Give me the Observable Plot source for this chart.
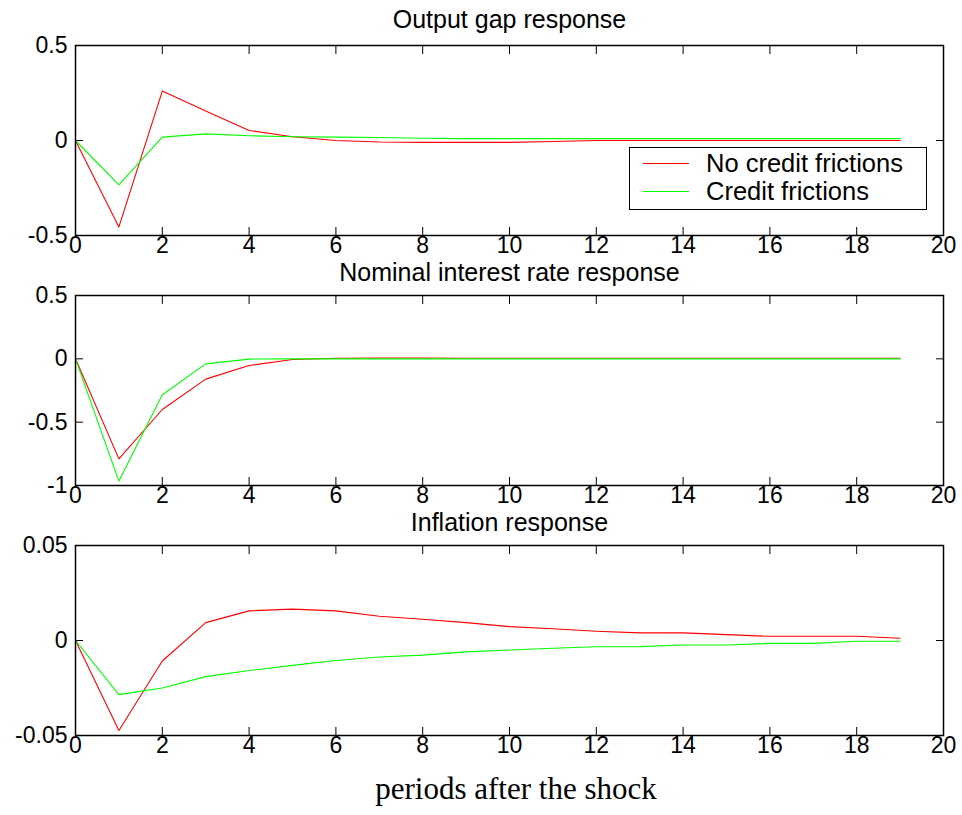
<!DOCTYPE html>
<html>
<head>
<meta charset="utf-8">
<script src="https://cdn.jsdelivr.net/npm/d3@7"></script>
<script src="https://cdn.jsdelivr.net/npm/@observablehq/plot@0.6"></script>
<style>
  html, body { margin: 0; padding: 0; background: #fff; }
  #wrap { position: relative; width: 962px; height: 815px; overflow: hidden; background: #fff; }
  .panel { position: absolute; left: 0; }
  #legend { position: absolute; left: 629px; top: 147px; width: 298px; height: 63px;
            border: 1.2px solid #000; background: #fff; box-sizing: border-box;
            font-family: "Liberation Sans", Arial, sans-serif; font-size: 25.5px; color: #000; }
  .row { position: absolute; left: 0; height: 28px; display: flex; align-items: center; }
  .swatch { width: 46px; height: 0; margin-left: 13px; margin-right: 17px; }
  #xlabel { position: absolute; left: 0; width: 1032px; text-align: center; top: 771px;
            font-family: "Liberation Serif", "Times New Roman", serif; font-size: 31px; color: #000; }
</style>
</head>
<body>
<div id="wrap"></div>
<script>
// ---------- data ----------
const periods = [0,1,2,3,4,5,6,7,8,9,10,11,12,13,14,15,16,17,18,19];
const xTicks = [0,2,4,6,8,10,12,14,16,18,20];
const seriesNames = ["No credit frictions", "Credit frictions"];
const seriesColors = ["#ff0000", "#00ff00"];
const xAxisLabel = "periods after the shock";

const titles = ["Output gap response", "Nominal interest rate response", "Inflation response"];

const outputNoCF = [0,-0.455,0.26,0.155,0.053,0.02,0.0,-0.008,-0.01,-0.01,-0.01,-0.005,0,0,0,0,0,0,0,0];
const outputCF   = [0,-0.233,0.018,0.035,0.025,0.02,0.018,0.016,0.012,0.01,0.01,0.01,0.01,0.01,0.01,0.01,0.01,0.01,0.01,0.01];
const outputTicks = [-0.5,0,0.5];
const outputDomain = [-0.5,0.5];

const rateNoCF = [0,-0.79,-0.40,-0.16,-0.053,-0.005,0.005,0.006,0.006,0.005,0.005,0.005,0.005,0.005,0.005,0.005,0.005,0.005,0.005,0.005];
const rateCF   = [0,-0.965,-0.283,-0.04,-0.002,0,0,0,0,0,0,0,0,0,0,0,0,0,0,0];
const rateTicks = [-1,-0.5,0,0.5];
const rateDomain = [-1,0.5];

const inflNoCF = [0,-0.0474,-0.0108,0.0094,0.0156,0.0165,0.0156,0.0128,0.0112,0.0094,0.0073,0.0062,0.0049,0.004,0.004,0.0031,0.0022,0.0022,0.0022,0.0012];
const inflCF   = [0,-0.0285,-0.025,-0.019,-0.0158,-0.0131,-0.0105,-0.0087,-0.0077,-0.006,-0.005,-0.0041,-0.0033,-0.0032,-0.0024,-0.0024,-0.0015,-0.0015,-0.0004,-0.0004];
const inflTicks = [-0.05,0,0.05];
const inflDomain = [-0.05,0.05];

// ---------- drawing ----------
const wrap = document.getElementById("wrap");
const font = "'Liberation Sans', Arial, Helvetica, sans-serif";

function panel(title, domain, yTicks, red, green, top, titleDy) {
  const rows = [];
  periods.forEach((p, i) => {
    rows.push({x: p, y: red[i], s: seriesNames[0]});
  });
  periods.forEach((p, i) => {
    rows.push({x: p, y: green[i], s: seriesNames[1]});
  });
  const fmt = d => String(d);
  const chart = Plot.plot({
    width: 962, height: 270,
    marginLeft: 75, marginRight: 19, marginTop: 45, marginBottom: 35,
    x: {domain: [0, 20]},
    y: {domain: domain},
    color: {domain: seriesNames, range: seriesColors},
    style: {background: "transparent", overflow: "visible", fontFamily: font, fontSize: "23px", color: "#000"},
    marks: [
      Plot.axisX({ticks: xTicks, anchor: "bottom", tickSize: -8, tickPadding: 9, tickFormat: fmt, label: null, strokeWidth: 1}),
      Plot.axisX({ticks: xTicks, anchor: "top", tickSize: -8, tickFormat: () => "", label: null, strokeWidth: 1}),
      Plot.axisY({ticks: yTicks, anchor: "left", tickSize: -8, tickPadding: 16, tickFormat: fmt, label: null, strokeWidth: 1}),
      Plot.axisY({ticks: yTicks, anchor: "right", tickSize: -8, tickFormat: () => "", label: null, strokeWidth: 1}),
      Plot.line(rows, {x: "x", y: "y", z: "s", stroke: "s", strokeWidth: 1.1}),
      Plot.frame({stroke: "#000", strokeWidth: 1.5}),
      Plot.text([title], {frameAnchor: "top", lineAnchor: "middle", dy: titleDy, fontSize: 25, fill: "#000"})
    ]
  });
  chart.classList.add("panel");
  chart.style.top = top + "px";
  wrap.appendChild(chart);
}

panel(titles[0], outputDomain, outputTicks, outputNoCF, outputCF, 0, -26);
panel(titles[1], rateDomain, rateTicks, rateNoCF, rateCF, 250, -23);
panel(titles[2], inflDomain, inflTicks, inflNoCF, inflCF, 500, -23);

// legend
const legend = document.createElement("div");
legend.id = "legend";
seriesNames.forEach((name, i) => {
  const row = document.createElement("div");
  row.className = "row";
  row.style.top = (i === 0 ? 1 : 29) + "px";
  const sw = document.createElement("div");
  sw.className = "swatch";
  sw.style.borderTop = "1.2px solid " + seriesColors[i];
  const t = document.createElement("span");
  t.textContent = name;
  row.appendChild(sw);
  row.appendChild(t);
  legend.appendChild(row);
});
wrap.appendChild(legend);

const xl = document.createElement("div");
xl.id = "xlabel";
xl.textContent = xAxisLabel;
wrap.appendChild(xl);
</script>
</body>
</html>
